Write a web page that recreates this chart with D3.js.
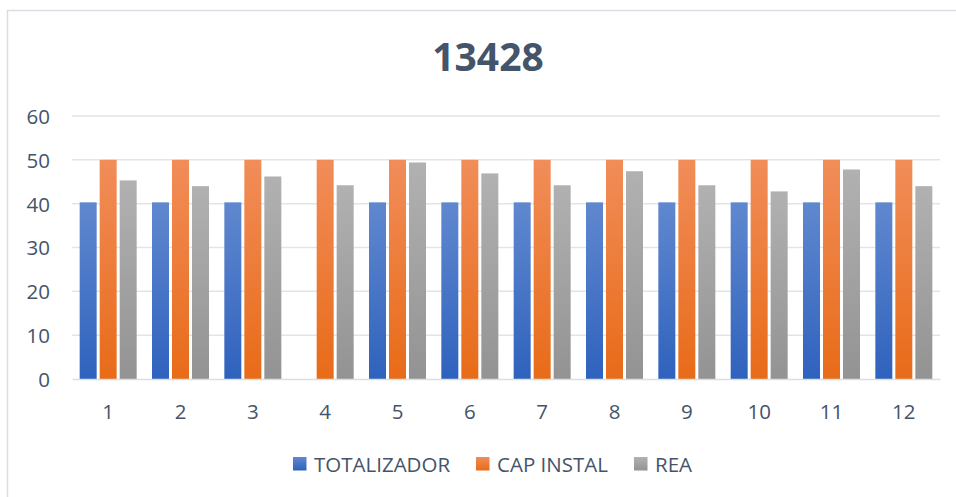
<!DOCTYPE html>
<html>
<head>
<meta charset="utf-8">
<script src="https://cdn.jsdelivr.net/npm/d3@7"></script>
<style>
  html, body { margin: 0; padding: 0; background: #fff; }
  svg { display: block; }
  text { font-family: "Open Sans", "Noto Sans", sans-serif; fill: #44546a; }
</style>
</head>
<body>
<svg id="chart" width="956" height="497"></svg>
<script>
// Months 1..12 and the three measured series
const categories = ["1", "2", "3", "4", "5", "6", "7", "8", "9", "10", "11", "12"];
const seriesNames = ["TOTALIZADOR", "CAP INSTAL", "REA"];
const totalizador = [40.3, 40.3, 40.3, 0, 40.3, 40.3, 40.3, 40.3, 40.3, 40.3, 40.3, 40.3];
const capInstal = [50, 50, 50, 50, 50, 50, 50, 50, 50, 50, 50, 50];
const rea = [45.3, 44.0, 46.2, 44.2, 49.4, 46.9, 44.2, 47.4, 44.2, 42.8, 47.8, 44.0];
const yTicks = [0, 10, 20, 30, 40, 50, 60];
const chartTitle = "13428";

const seriesValues = [totalizador, capInstal, rea];
const gradients = [
  ["#6088cf", "#2f62bd"],
  ["#f18d59", "#e86b18"],
  ["#b1b1b1", "#939393"]
];

const labelSize = 20.5;
const svg = d3.select("#chart");

// frame
svg.append("path")
  .attr("d", "M7.5,970 L7.5,10.5 L960,10.5")
  .attr("fill", "none")
  .attr("stroke", "#d9dee5")
  .attr("stroke-width", 1.5);

const defs = svg.append("defs");
gradients.forEach((g, i) => {
  const lg = defs.append("linearGradient")
    .attr("id", "grad" + i)
    .attr("x1", 0).attr("y1", 0).attr("x2", 0).attr("y2", 1);
  lg.append("stop").attr("offset", "0%").attr("stop-color", g[0]);
  lg.append("stop").attr("offset", "100%").attr("stop-color", g[1]);
});

const plot = { left: 72, right: 940, top: 116, bottom: 379 };

const x = d3.scaleBand()
  .domain(categories)
  .range([plot.left, plot.right]);

const y = d3.scaleLinear()
  .domain([0, 60])
  .range([plot.bottom, plot.top]);

const barW = 17, barGap = 3;
const xs = d3.scaleBand()
  .domain(seriesNames)
  .range([0, 3 * barW + 2 * barGap])
  .paddingInner(barGap / (barW + barGap));

// gridlines
svg.append("g")
  .selectAll("line")
  .data(yTicks.filter(d => d > 0))
  .join("line")
  .attr("x1", plot.left).attr("x2", plot.right)
  .attr("y1", d => y(d)).attr("y2", d => y(d))
  .attr("stroke", "#e1e5eb")
  .attr("stroke-width", 1.5);

// y axis labels
const yAxis = d3.axisLeft(y).tickValues(yTicks).tickSize(0).tickPadding(0);
const yg = svg.append("g")
  .attr("transform", `translate(${plot.left - 22},0)`)
  .call(yAxis);
yg.select(".domain").remove();
yg.selectAll("text")
  .attr("font-size", labelSize)
  .attr("dy", "0.36em")
  .style("font-family", '"Open Sans", sans-serif')
  .attr("fill", "#44546a");

// bars
const groupOffset = (x.bandwidth() - (3 * barW + 2 * barGap)) / 2;
seriesNames.forEach((name, si) => {
  svg.append("g")
    .selectAll("rect")
    .data(categories.map((c, i) => ({ c, v: seriesValues[si][i] })))
    .join("rect")
    .attr("x", d => x(d.c) + groupOffset + xs(name))
    .attr("width", xs.bandwidth())
    .attr("y", d => y(d.v))
    .attr("height", d => y(0) - y(d.v))
    .attr("fill", `url(#grad${si})`);
});

// x axis
const xAxis = d3.axisBottom(x).tickSize(0).tickPadding(0);
const xg = svg.append("g")
  .attr("transform", `translate(0,${plot.bottom})`)
  .call(xAxis);
xg.select(".domain")
  .attr("stroke", "#dbdfe5")
  .attr("stroke-width", 1.5);
xg.selectAll("text")
  .attr("font-size", labelSize)
  .attr("y", 39.5)
  .attr("dy", 0)
  .style("font-family", '"Open Sans", sans-serif')
  .attr("fill", "#44546a");

// title
svg.append("text")
  .attr("x", 488)
  .attr("y", 71)
  .attr("text-anchor", "middle")
  .attr("font-size", 39)
  .attr("font-weight", "bold")
  .text(chartTitle);

// legend
const legendPos = [293, 476, 634];
const legend = svg.append("g");
seriesNames.forEach((name, i) => {
  legend.append("rect")
    .attr("x", legendPos[i]).attr("y", 457)
    .attr("width", 13.5).attr("height", 13.5)
    .attr("fill", `url(#grad${i})`);
  legend.append("text")
    .attr("x", legendPos[i] + 21)
    .attr("y", 471.5)
    .attr("font-size", labelSize)
    .text(name);
});
</script>
</body>
</html>
